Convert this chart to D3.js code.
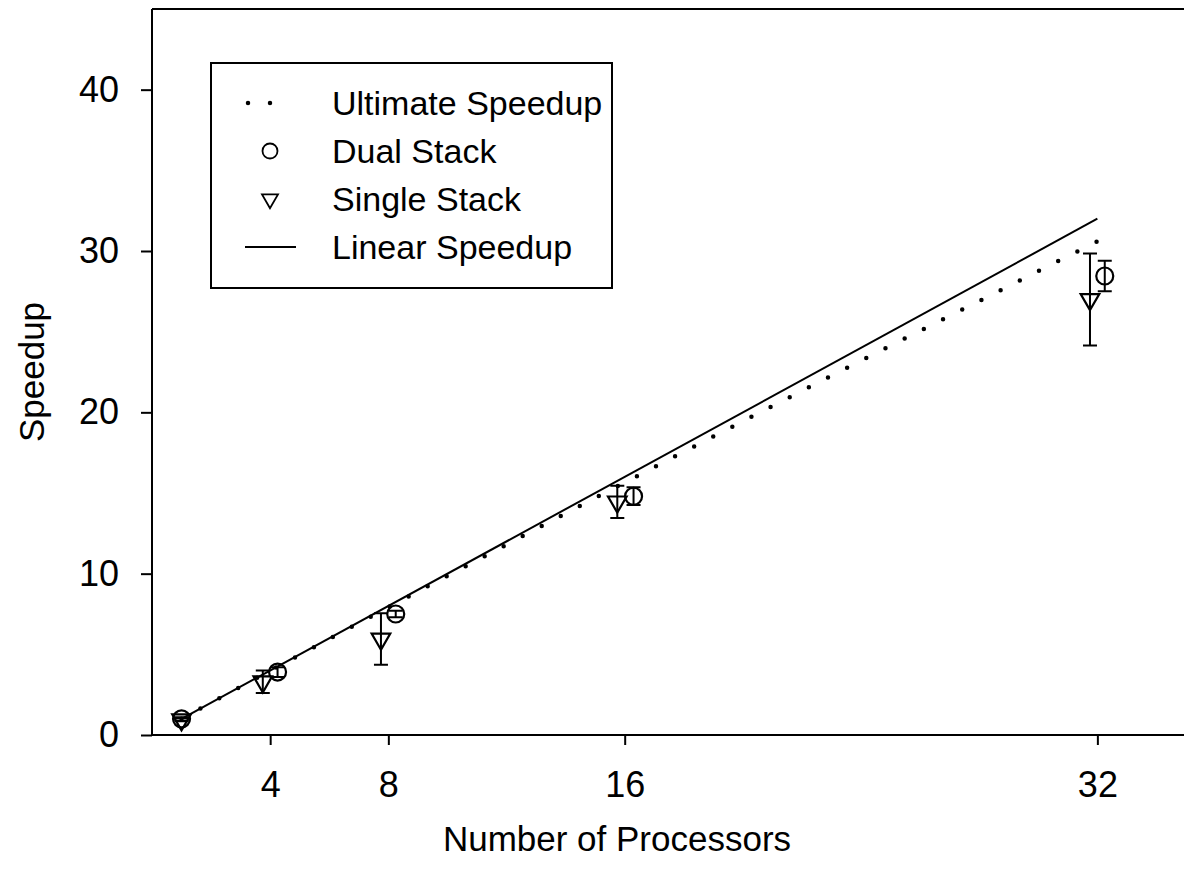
<!DOCTYPE html>
<html>
<head>
<meta charset="utf-8">
<script src="https://cdn.jsdelivr.net/npm/d3@7"></script>
<style>
  body { margin: 0; background: #fff; }
  text { font-family: "Liberation Sans", Arial, sans-serif; fill: #000; }
</style>
</head>
<body>
<div id="visualization"></div>
<script>
// processor counts / tick labels
var xTicks = [4, 8, 16, 32];
var yTicks = [0, 10, 20, 30, 40];

// linear speedup
var linearX = [1, 32];
var linearY = [1, 32];

// ultimate speedup (dotted curve)
var ultimateX = [1, 2, 4, 8, 12, 16, 20, 24, 28, 32];
var ultimateY = [1, 2.0, 3.98, 7.92, 11.8, 15.65, 19.45, 23.2, 26.9, 30.6];

// dual stack measurements (x slightly shifted right of the tick)
var dualX = [1, 4.25, 8.25, 16.3, 32.25];
var dualY = [1.0, 3.9, 7.5, 14.8, 28.45];
var dualErr = [0.1, 0.3, 0.2, 0.55, 0.95];

// single stack measurements (x slightly shifted left of the tick)
var singleX = [1, 3.75, 7.75, 15.75, 31.75];
var singleY = [0.95, 3.3, 5.95, 14.45, 27.0];
var singleErr = [0.1, 0.7, 1.6, 1.0, 2.85];

var legendLabels = ["Ultimate Speedup", "Dual Stack", "Single Stack", "Linear Speedup"];

var W = 1184, H = 879;
var margin = {top: 9, left: 152, bottom: 144};

var x = d3.scaleLinear().domain([0, 35]).range([margin.left, 1186]);
var y = d3.scaleLinear().domain([0, 45]).range([H - margin.bottom, margin.top]);

var svg = d3.select("#visualization").append("svg")
    .attr("width", W)
    .attr("height", H);

// frame (top + left visible, right edge off the page)
svg.append("line")
    .attr("x1", x(0)).attr("x2", W + 5)
    .attr("y1", y(45)).attr("y2", y(45))
    .attr("stroke", "#000").attr("stroke-width", 2);

// y axis
var yAxis = svg.append("g")
    .attr("transform", "translate(" + x(0) + ",0)")
    .call(d3.axisLeft(y).tickValues(yTicks).tickSize(11).tickPadding(22).tickSizeOuter(0));
// x axis
var xAxis = svg.append("g")
    .attr("transform", "translate(0," + y(0) + ")")
    .call(d3.axisBottom(x).tickValues(xTicks).tickSize(10).tickPadding(26).tickSizeOuter(0));

[yAxis, xAxis].forEach(function(g) {
  g.select(".domain").attr("stroke-width", 2);
  g.selectAll(".tick line").attr("stroke-width", 2);
  g.selectAll(".tick text").style("font-size", "36px").style("font-family", "Liberation Sans, Arial, sans-serif");
});
xAxis.select(".domain").attr("d", "M" + x(0) + ",0H" + (W + 5));
yAxis.select(".domain").attr("d", "M0," + y(45) + "V" + y(0));

// axis titles
svg.append("text")
    .attr("transform", "translate(44," + ((y(0) + y(45)) / 2) + ") rotate(-90)")
    .attr("text-anchor", "middle")
    .style("font-size", "35px")
    .text("Speedup");
svg.append("text")
    .attr("x", 617).attr("y", 851)
    .attr("text-anchor", "middle")
    .style("font-size", "35px")
    .text("Number of Processors");

var line = d3.line()
    .x(function(d) { return x(d[0]); })
    .y(function(d) { return y(d[1]); });

// linear speedup
svg.append("path")
    .datum(d3.zip(linearX, linearY))
    .attr("d", line)
    .attr("fill", "none").attr("stroke", "#000").attr("stroke-width", 2);

// ultimate speedup
svg.append("path")
    .datum(d3.zip(ultimateX, ultimateY))
    .attr("d", line.curve(d3.curveMonotoneX))
    .attr("fill", "none").attr("stroke", "#000").attr("stroke-width", 4.5)
    .attr("stroke-linecap", "round")
    .attr("stroke-dasharray", "0 21.5");

// error bars
function errorBars(xs, ys, es) {
  var g = svg.append("g").attr("stroke", "#000").attr("stroke-width", 2).attr("fill", "none");
  var data = d3.range(xs.length).map(function(i) { return [xs[i], ys[i], es[i]]; });
  g.selectAll("path").data(data).enter().append("path")
    .attr("d", function(d) {
      var cx = x(d[0]), t = y(d[1] + d[2]), b = y(d[1] - d[2]);
      return "M" + (cx - 7) + "," + t + "H" + (cx + 7) +
             "M" + cx + "," + t + "V" + b +
             "M" + (cx - 7) + "," + b + "H" + (cx + 7);
    });
}
errorBars(dualX, dualY, dualErr);
errorBars(singleX, singleY, singleErr);

var tri = d3.symbol().type(d3.symbolTriangle).size(150);

// dual stack circles
svg.append("g").selectAll("circle")
    .data(d3.zip(dualX, dualY)).enter().append("circle")
    .attr("cx", function(d) { return x(d[0]); })
    .attr("cy", function(d) { return y(d[1]); })
    .attr("r", 8.5)
    .attr("fill", "none").attr("stroke", "#000").attr("stroke-width", 2.2);

// single stack triangles (pointing down)
svg.append("g").selectAll("path")
    .data(d3.zip(singleX, singleY)).enter().append("path")
    .attr("d", tri)
    .attr("transform", function(d) { return "translate(" + x(d[0]) + "," + y(d[1]) + ") rotate(180)"; })
    .attr("fill", "none").attr("stroke", "#000").attr("stroke-width", 2.2);

// legend
var legend = svg.append("g");
legend.append("rect")
    .attr("x", 211).attr("y", 63).attr("width", 401).attr("height", 225)
    .attr("fill", "#fff").attr("stroke", "#000").attr("stroke-width", 2);

var rowY = [103, 151, 199, 247];
legend.selectAll("text.lab")
    .data(legendLabels).enter().append("text")
    .attr("class", "lab")
    .attr("x", 332)
    .attr("y", function(d, i) { return rowY[i] + 12; })
    .style("font-size", "34px")
    .text(function(d) { return d; });

legend.append("path")
    .attr("d", "M248," + rowY[0] + "H292")
    .attr("stroke", "#000").attr("stroke-width", 4.5)
    .attr("stroke-linecap", "round").attr("stroke-dasharray", "0 22");
legend.append("circle")
    .attr("cx", 270).attr("cy", rowY[1]).attr("r", 7.5)
    .attr("fill", "none").attr("stroke", "#000").attr("stroke-width", 1.8);
legend.append("path")
    .attr("d", d3.symbol().type(d3.symbolTriangle).size(110))
    .attr("transform", "translate(270," + rowY[2] + ") rotate(180)")
    .attr("fill", "none").attr("stroke", "#000").attr("stroke-width", 1.8);
legend.append("line")
    .attr("x1", 245).attr("x2", 296).attr("y1", rowY[3]).attr("y2", rowY[3])
    .attr("stroke", "#000").attr("stroke-width", 2);
</script>
</body>
</html>
